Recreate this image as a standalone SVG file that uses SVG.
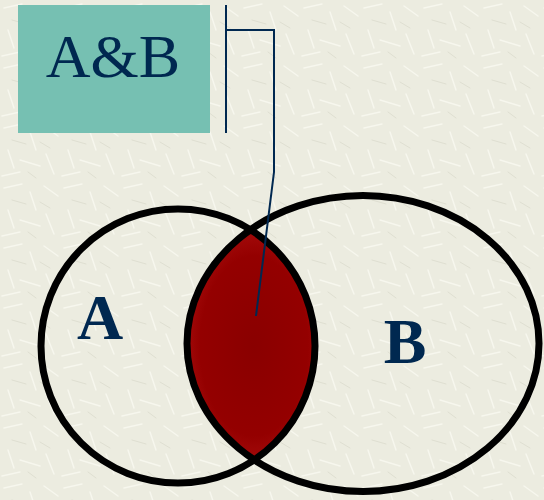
<svg xmlns="http://www.w3.org/2000/svg" width="544" height="500" viewBox="0 0 544 500">
  <style>
    .ring { fill: none; stroke: #000000; stroke-width: 7; }
    .lbl { font-family: "Times New Roman", "Liberation Serif", Times, serif; fill: #002850; }
    .big { font-weight: bold; font-size: 64px; }
    .wire { fill: none; stroke: #002850; stroke-width: 2; }
  </style>
  <defs>
    <pattern id="tex" width="60" height="60" patternUnits="userSpaceOnUse">
      <rect width="60" height="60" fill="#ecece0"/>
      <g stroke="#f7f7ee" stroke-width="1.5" stroke-linecap="round">
        <line x1="4" y1="8" x2="22" y2="4"/>
        <line x1="30" y1="12" x2="36" y2="30"/>
        <line x1="44" y1="6" x2="58" y2="16"/>
        <line x1="8" y1="30" x2="14" y2="48"/>
        <line x1="20" y1="40" x2="40" y2="46"/>
        <line x1="46" y1="34" x2="54" y2="54"/>
        <line x1="2" y1="56" x2="20" y2="52"/>
      </g>
      <g stroke="#dfdfd1" stroke-width="1" stroke-linecap="round">
        <line x1="12" y1="20" x2="26" y2="24"/>
        <line x1="40" y1="22" x2="50" y2="28"/>
        <line x1="28" y1="52" x2="36" y2="58"/>
      </g>
    </pattern>
    <clipPath id="clipA">
      <circle cx="178" cy="346" r="137"/>
    </clipPath>
    <radialGradient id="lensGrad" cx="254" cy="346" r="120" gradientUnits="userSpaceOnUse" gradientTransform="translate(254 346) scale(0.6 1) translate(-254 -346)">
      <stop offset="0" stop-color="#8a0000"/>
      <stop offset="0.75" stop-color="#940000"/>
      <stop offset="0.92" stop-color="#a00808"/>
      <stop offset="1" stop-color="#5a0000"/>
    </radialGradient>
  </defs>

  <rect width="544" height="500" fill="url(#tex)"/>

  <g id="node-intersection">
    <ellipse cx="363" cy="343.5" rx="176" ry="148" fill="url(#lensGrad)" clip-path="url(#clipA)"/>
  </g>

  <g id="node-a">
    <circle class="ring" cx="178" cy="346" r="137"/>
    <text class="lbl big" x="100" y="339" text-anchor="middle">A</text>
  </g>

  <g id="node-b">
    <ellipse class="ring" cx="363" cy="343.5" rx="176" ry="148"/>
    <text class="lbl big" x="405" y="363" text-anchor="middle">B</text>
  </g>

  <g id="node-ab-label">
    <rect x="18" y="5" width="192" height="128" fill="#76c0b2"/>
    <text class="lbl" x="113" y="77" font-size="62" text-anchor="middle">A&amp;B</text>
  </g>

  <g id="connectors">
    <line class="wire" x1="226" y1="5" x2="226" y2="133"/>
    <polyline class="wire" points="226,30 274,30 274,172 256,316"/>
  </g>
</svg>
